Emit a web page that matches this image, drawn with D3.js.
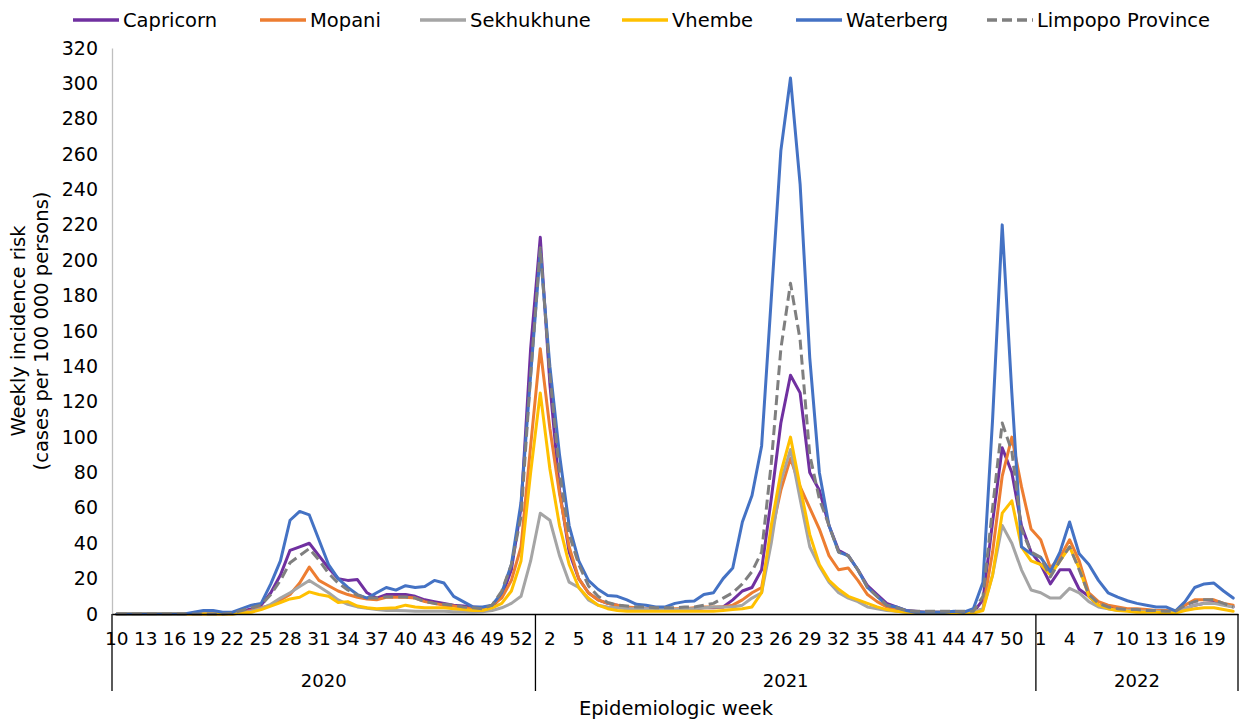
<!DOCTYPE html>
<html lang="en">
<head>
<meta charset="UTF-8">
<title>Weekly incidence risk, Limpopo districts</title>
<script src="https://d3js.org/d3.v7.min.js"></script>
<style>
  body { margin: 0; background: #fff; }
  svg text { font-family: "DejaVu Sans", sans-serif; fill: #000; }
</style>
</head>
<body>
<div id="chart"></div>
<script>
// categories: epi weeks per year
const years = ["2020", "2021", "2022"];
const firstWeek = [10, 1, 1];
const lastWeek = [53, 52, 21];
const yTicks = [0, 20, 40, 60, 80, 100, 120, 140, 160, 180, 200, 220, 240, 260, 280, 300, 320];

const seriesNames = ["Capricorn", "Mopani", "Sekhukhune", "Vhembe", "Waterberg", "Limpopo Province"];
const seriesColors = ["#7030a0", "#ed7d31", "#a5a5a5", "#ffc000", "#4472c4", "#7f7f7f"];

// values, 2020 wk10-53 | 2021 wk1-52 | 2022 wk1-21
const capricorn = [
  0,0,0,0,0,0,0,0,0,0,0,0,
  0.5,1.5,3,5,12,22,36,38,40,33, 26,20,19,19.5,12,9,11,11,11,10, 8,7,6,5,4.5,4,3.5,4,10,25, 60,150,
  213,130,70,35,20,12,8,6,5,4, 3,3,2.5,2.5,2.5,3,3,3.5,3.5,4, 8,13,15,25,65,108,135,125,80,70,
  50,36,33,25,16,11,6,4,2,1.5, 1,1,1,1,1,1,8,52,94,80, 50,35,
  28,17,25,25,14,10,5,3.5,2.5,2, 2,1.5,1.5,1,1,3,5,6,6.5,5.5, 4
];
const mopani = [
  0,0,0,0,0,0,0,0,0,0,0,0,0,
  1,2,3.5,5,8,11,17.5,26.5,19,16, 13,11,9.5,8.5,8,9.5,9.5,9.5,9,7, 6,5,4.5,3.5,3,3,5,9,19,38, 95,
  150,105,68,38,20,12,8,6,5,4, 3.5,3,3,3,3,3,3.5,4,4,4, 5,8,12,15,45,70,88,72,60,48,
  33,25,26,19,11,7,4,2.5,1.5,1, 1,1,1,1,1,1,3,35,78,100, 72,48,
  42,26,32,42,30,12,7,5,4,3, 3,2.5,2,2,1.5,5,8,8,8,6, 5
];
const sekhukhune = [
  0,0,0,0,0,0,0,0,0,0,0,0,0,
  0.5,1.5,3,5.5,9,12,15.5,19,15.5,12, 8,5.5,4,3.3,2.5,2,2,1.8,1.5,1.5, 1.5,1.5,1.3,1.3,1.2,1.3,2,3.5,6,10, 30,
  57,53,33,18,15,8,5,4,3.5,3, 3,3,2.5,2.5,2.5,3,3,3.5,4,4, 4,5,9,12,40,75,93,65,38,27,
  18,12,9,7,4,3,2,1.5,1,1, 1,1,1,1,1,1,3,22,50,40, 25,13.6,
  12,9,9,14.5,12,7,4,3,2,2, 1.5,1.5,1.5,1,1,3,5,6,6,5, 4
];
const vhembe = [
  0,0,0,0,0,0,0,0,0,0,0,0,0,
  0.5,1,2.5,4.5,6.5,8.5,9.5,12.5,11,10, 6.5,7,4.5,3.5,3,3.3,3.5,5,4,3.5, 3.5,3.5,3,2.5,2,2,3.5,6,13,30, 80,
  125,82,50,28,15,9,5,3,2,1.5, 1.5,1.5,1.5,1.5,1.5,1.5,1.5,1.5,1.5,2, 2.5,3,4,12,50,80,100,72,45,28,
  19,14,10,8,6,4,2.5,1.5,1,1, 0.5,0.5,0.5,0.5,0.5,0.5,2,22,57,64, 38,30,
  28,22,30,38,26,10,5,3,2,1.5, 1,1,1,0.5,0.5,2,3,3.5,3.5,2.5, 1.5
];
const waterberg = [
  0,0,0,0,0,0,0,0,
  1,2,2,1,1,3,5,6,17,30, 53,58,56,42,28,20,15,11,9,12, 15,13.5,16,15,15.5,19,17.5,10,7,4, 4,5,12,28,63,135,
  205,140,90,50,30,19,14,10.5,10,8, 5.5,5,4,4,6,7,7.3,11,12,20, 26,52,67,95,178,262,303,243,145,80,
  50,35,33,25,15,10,5,4,2,1, 1,1,1,1.5,1,3,18,110,220,125, 38,34,
  32,24,35,52,34,28,19,12,9.5,7.5, 6,5,4,4,1.7,7,15,17,17.5,13, 9
];
const limpopo = [
  0,0,0,0,0,0,0,0,0,0,0,0,
  0.5,2,3.5,5,11,19,29,33,37,30.5, 23,17.5,13.6,10.7,9,9,9.6,9.6,9.6,9, 7,6,5.5,5,4,3.5,3,5,13,28, 55,135,
  207,135,80,45,28,16,10,6.5,5,4.5, 4,4,3.5,3.5,3.5,4,4,5,6,9, 12,17,24,35,85,150,187,155,90,65,
  50,35,33,25,15,10,5,3.5,2,1.5, 1.5,1.5,1.5,1.5,1.5,1.5,10,60,108,92, 48,35,
  32,21,30,38,25,11,6,4,3,2.5, 2.5,2,2,1.5,1.5,5,7,8,8,6, 4
];
const seriesValues = [capricorn, mopani, sekhukhune, vhembe, waterberg, limpopo];

// legend line starts (px)
const legendX = [73, 260, 420, 622, 796, 987];

const W = 1242, H = 722;
const plotLeft = 112, plotRight = 1238, plotTop = 48, plotBottom = 614;

const cats = [];
years.forEach((yr, j) => {
  d3.range(firstWeek[j], lastWeek[j] + 1).forEach(w => cats.push({ year: yr, week: w, key: yr + "-" + w }));
});
const keys = cats.map(c => c.key);

const svg = d3.select("#chart").append("svg")
  .attr("width", W).attr("height", H);

const x = d3.scaleBand().domain(keys).range([plotLeft, plotRight]).padding(0);
const cx = k => x(k) + x.bandwidth() / 2;
const y = d3.scaleLinear().domain([0, 320]).range([plotBottom, plotTop]);

// y axis
const yAxis = svg.append("g")
  .attr("transform", `translate(${plotLeft},0)`)
  .call(d3.axisLeft(y).tickValues(yTicks).tickSize(0).tickPadding(14));
yAxis.select(".domain").attr("stroke", "#bfbfbf").attr("stroke-width", 1.3);
yAxis.selectAll("text").style("font-size", "19px");

const midY = (plotTop + plotBottom) / 2;
svg.append("text")
  .attr("transform", `translate(25,${midY}) rotate(-90)`)
  .attr("text-anchor", "middle")
  .style("font-size", "19.5px")
  .text("Weekly incidence risk");
svg.append("text")
  .attr("transform", `translate(48,${midY}) rotate(-90)`)
  .attr("text-anchor", "middle")
  .style("font-size", "19.5px")
  .text("(cases  per 100 000 persons)");

// lines
const line = d3.line()
  .x((d, i) => cx(keys[i]))
  .y(d => y(d));

svg.selectAll(".series")
  .data(seriesValues)
  .join("path")
  .attr("class", "series")
  .attr("fill", "none")
  .attr("stroke", (d, i) => seriesColors[i])
  .attr("stroke-width", 3)
  .attr("stroke-linejoin", "round")
  .attr("stroke-linecap", (d, i) => i === 5 ? "butt" : "round")
  .attr("stroke-dasharray", (d, i) => i === 5 ? "10,5" : null)
  .attr("d", d => line(d));

// x axis, week labels every 3rd category
const xAxis = svg.append("g")
  .attr("transform", `translate(0,${plotBottom})`)
  .call(d3.axisBottom(x)
    .tickValues(keys.filter((k, i) => i % 3 === 0))
    .tickFormat(k => k.split("-")[1])
    .tickSize(0).tickSizeOuter(0).tickPadding(18));
xAxis.select(".domain").attr("stroke", "#000").attr("stroke-width", 1.3);
xAxis.selectAll("text").style("font-size", "18.5px");

// year groups
const bounds = years.map(yr => {
  const ks = cats.filter(c => c.year === yr).map(c => c.key);
  return { year: yr, x0: x(ks[0]), x1: x(ks[ks.length - 1]) + x.bandwidth() };
});
const sepX = [bounds[0].x0].concat(bounds.map(b => b.x1));
svg.selectAll(".sep")
  .data(sepX)
  .join("line")
  .attr("x1", d => d).attr("x2", d => d)
  .attr("y1", plotBottom).attr("y2", 691)
  .attr("stroke", "#000").attr("stroke-width", 1.3);

svg.selectAll(".yr")
  .data(bounds)
  .join("text")
  .attr("x", d => (d.x0 + d.x1) / 2)
  .attr("y", 687)
  .attr("text-anchor", "middle")
  .style("font-size", "18px")
  .text(d => d.year);

svg.append("text")
  .attr("x", 676).attr("y", 715)
  .attr("text-anchor", "middle")
  .style("font-size", "19.5px")
  .text("Epidemiologic week");

// legend
const legend = svg.selectAll(".legend")
  .data(seriesNames)
  .join("g")
  .attr("transform", (d, i) => `translate(${legendX[i]},20)`);
legend.append("line")
  .attr("x1", 0).attr("x2", 46)
  .attr("stroke", (d, i) => seriesColors[i])
  .attr("stroke-width", 3.5)
  .attr("stroke-dasharray", (d, i) => i === 5 ? "10,5" : null);
legend.append("text")
  .attr("x", 50).attr("y", 7)
  .style("font-size", "19.5px")
  .text(d => d);
</script>
</body>
</html>
